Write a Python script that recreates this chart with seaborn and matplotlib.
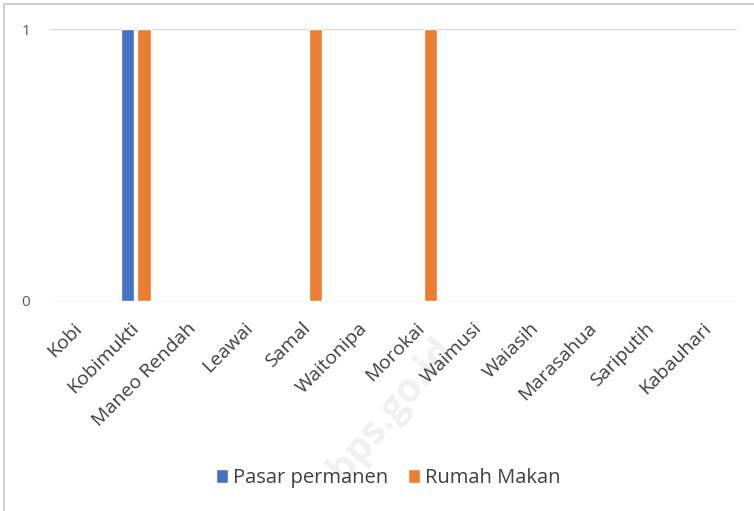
import pandas as pd
import matplotlib.pyplot as plt
import matplotlib.transforms as mtransforms
import seaborn as sns

desa = ['Kobi', 'Kobimukti', 'Maneo Rendah', 'Leawai', 'Samal', 'Waitonipa',
        'Morokai', 'Waimusi', 'Waiasih', 'Marasahua', 'Sariputih', 'Kabauhari']
pasar_permanen = [0, 1, 0, 0, 0, 0, 0, 0, 0, 0, 0, 0]
rumah_makan = [0, 1, 0, 0, 1, 0, 1, 0, 0, 0, 0, 0]
series = ['Pasar permanen', 'Rumah Makan']
colors = ['#4472C4', '#ED7D31']

df = pd.DataFrame({'Desa': desa * 2,
                   'Jumlah': pasar_permanen + rumah_makan,
                   'Jenis': [series[0]] * len(desa) + [series[1]] * len(desa)})

sns.set_style('white')
plt.rcParams['font.family'] = ['Open Sans', 'DejaVu Sans']

fig = plt.figure(figsize=(7.54, 5.11), dpi=100)
ax = fig.add_axes([0.066, 0.411, 0.911, 0.532])

# watermark, behind everything
fig.text(0.52, 0.2, 'bps.go.id', fontsize=28, rotation=50, color='#f0f0f0',
         ha='center', va='center', fontweight='bold', zorder=-5)

sns.barplot(data=df, x='Desa', y='Jumlah', hue='Jenis', palette=colors,
            saturation=1, width=0.59, gap=0.22, ax=ax, legend=True)

ax.set_ylim(0, 1)
ax.set_xlim(-0.5, len(desa) - 0.5)
ax.set_yticks([0, 1])
ax.set_yticklabels(['0', '1'], color='#595959', fontsize=11)
ax.tick_params(axis='y', length=0, pad=14)
ax.tick_params(axis='x', length=0, pad=13)
ax.set_xticks(range(len(desa)))
ax.set_xticklabels(desa, rotation=45, ha='right', rotation_mode='anchor',
                   color='#404040', fontsize=14)
shift = mtransforms.ScaledTranslation(-6 / 100, 0, fig.dpi_scale_trans)
for lab in ax.get_xticklabels():
    lab.set_transform(lab.get_transform() + shift)
for y in [0, 1]:
    ax.axhline(y, color='#d9d9d9', lw=1, zorder=0)
sns.despine(ax=ax, left=True, bottom=True)
ax.set_xlabel('')
ax.set_ylabel('')
ax.patch.set_alpha(0)

ax.legend(loc='center', ncol=2, frameon=False, fontsize=14.5, handlelength=0.6,
          handleheight=0.75, handletextpad=0.25, columnspacing=1.0,
          labelcolor='#404040')
leg = ax.get_legend()
leg.set_bbox_to_anchor((388 / 754, 1 - 478 / 511), transform=fig.transFigure)

# screenshot frame
fig.add_artist(plt.Line2D([4 / 754, 4 / 754], [0, 1 - 4 / 511], color='#d0d0d0', lw=1.5))
fig.add_artist(plt.Line2D([4 / 754, 1], [1 - 4 / 511, 1 - 4 / 511], color='#d0d0d0', lw=1.5))

fig.savefig('out.png', dpi=100)
